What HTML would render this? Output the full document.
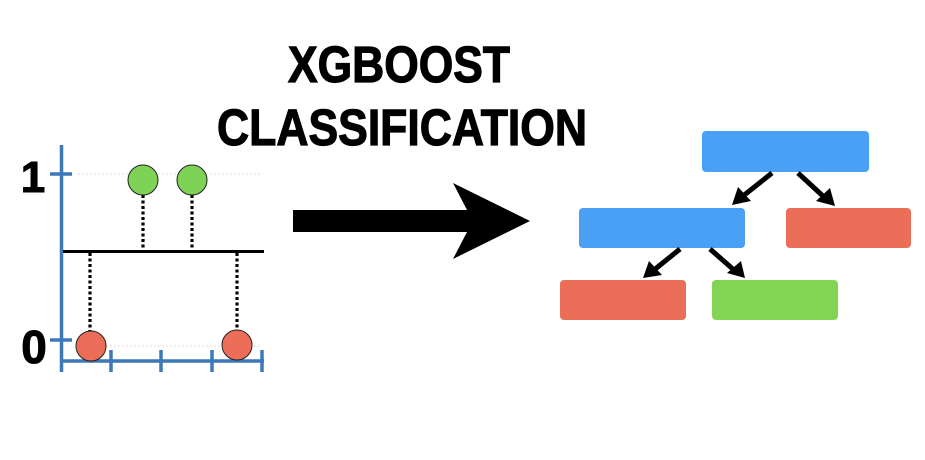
<!DOCTYPE html>
<html><head><meta charset="utf-8"><style>html,body{margin:0;padding:0;background:#fff;width:925px;height:460px;overflow:hidden}</style></head>
<body>
<svg width="925" height="460" viewBox="0 0 925 460" xmlns="http://www.w3.org/2000/svg">
<text x="399" y="82" text-anchor="middle" font-family="Liberation Sans, sans-serif" font-weight="bold" font-size="51" textLength="222" lengthAdjust="spacingAndGlyphs" stroke="#000" stroke-width="1.2">XGBOOST</text>
<text x="402" y="145" text-anchor="middle" font-family="Liberation Sans, sans-serif" font-weight="bold" font-size="51" textLength="370" lengthAdjust="spacingAndGlyphs" stroke="#000" stroke-width="1.2">CLASSIFICATION</text>
<!-- chart -->
<line x1="78" y1="174" x2="260" y2="174" stroke="#ddd" stroke-width="1" stroke-dasharray="2,2"/>
<line x1="78" y1="346" x2="260" y2="346" stroke="#ddd" stroke-width="1" stroke-dasharray="2,2"/>
<g stroke="#3d78b8" stroke-width="3.5">
<line x1="61.5" y1="145" x2="61.5" y2="372"/>
<line x1="60" y1="361" x2="264" y2="361"/>
<line x1="50" y1="174" x2="72" y2="174"/>
<line x1="50" y1="340" x2="72" y2="340"/>
<line x1="111" y1="350" x2="111" y2="372"/>
<line x1="161" y1="350" x2="161" y2="372"/>
<line x1="212" y1="350" x2="212" y2="372"/>
<line x1="262" y1="350" x2="262" y2="372"/>
</g>
<text x="33" y="192" text-anchor="middle" font-family="Liberation Sans, sans-serif" font-weight="bold" font-size="44" stroke="#000" stroke-width="1">1</text>
<text x="34" y="363" text-anchor="middle" font-family="Liberation Sans, sans-serif" font-weight="bold" font-size="46" stroke="#000" stroke-width="1">0</text>
<line x1="63" y1="251.5" x2="264" y2="251.5" stroke="#000" stroke-width="3"/>
<g stroke="#000" stroke-width="3.2" stroke-dasharray="3,2.5">
<line x1="143" y1="195" x2="143" y2="250"/>
<line x1="192" y1="195" x2="192" y2="250"/>
<line x1="90" y1="253" x2="90" y2="331"/>
<line x1="237" y1="253" x2="237" y2="330"/>
</g>
<g stroke="#222" stroke-width="1">
<circle cx="143" cy="180" r="15" fill="#7ed255"/>
<circle cx="192" cy="180" r="15" fill="#7ed255"/>
<circle cx="91" cy="346" r="15" fill="#ec6e58"/>
<circle cx="237" cy="345" r="15" fill="#ec6e58"/>
</g>
<!-- big arrow -->
<polygon points="293,210 467,210 453,183 530,221 453,259 467,232 293,232" fill="#000"/>
<!-- tree -->
<rect x="702" y="131" width="167" height="41" rx="4" fill="#4aa0f5"/>
<rect x="579" y="208" width="166" height="40" rx="4" fill="#4aa0f5"/>
<rect x="786" y="208" width="125" height="40" rx="4" fill="#ea6e58"/>
<rect x="560" y="280" width="126" height="40" rx="4" fill="#ea6e58"/>
<rect x="712" y="280" width="126" height="40" rx="4" fill="#82d455"/>
<g stroke="#000" stroke-width="5">
<line x1="772" y1="173" x2="743" y2="196"/>
<line x1="798" y1="173" x2="824" y2="197"/>
<line x1="680" y1="249" x2="654" y2="270"/>
<line x1="710" y1="249" x2="734" y2="270"/>
</g>
<g fill="#000">
<polygon points="732,205 738,187 751,201"/>
<polygon points="835,206 816,201 830,188"/>
<polygon points="643,278 649,261 662,275"/>
<polygon points="745,278 727,273 741,261"/>
</g>
</svg>
</body></html>
